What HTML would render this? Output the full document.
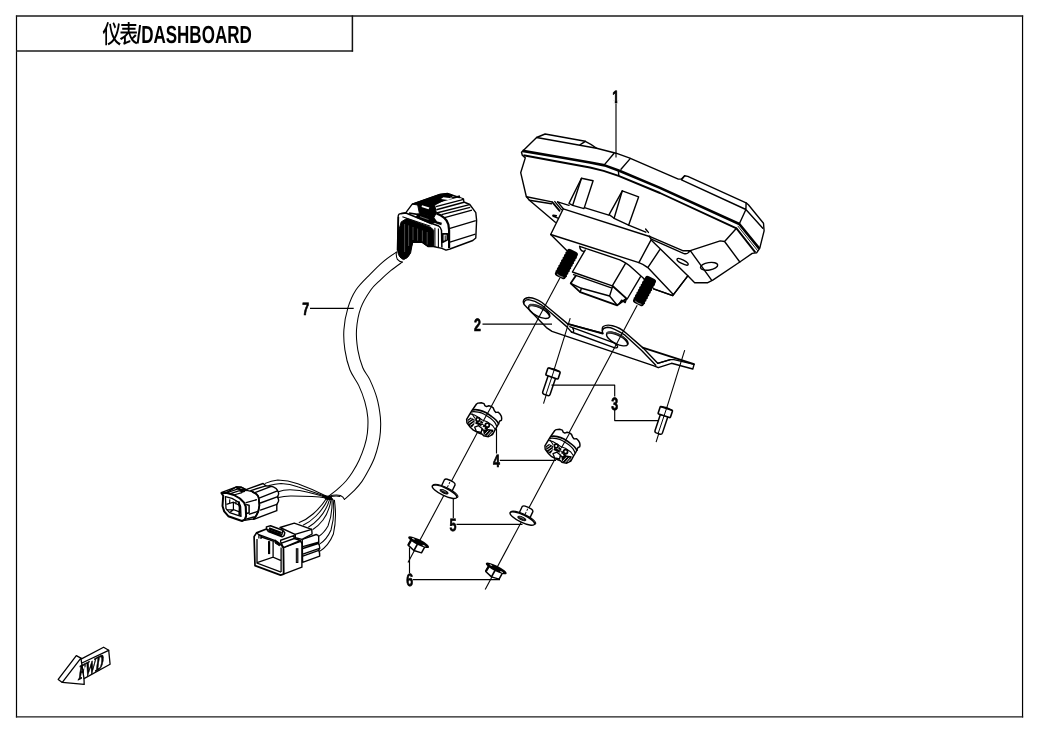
<!DOCTYPE html>
<html lang="zh">
<head>
<meta charset="utf-8">
<title>仪表/DASHBOARD</title>
<style>
html,body{margin:0;padding:0;background:#fff;}
body{width:1038px;height:733px;overflow:hidden;font-family:"Liberation Sans",sans-serif;}
svg{display:block;will-change:transform;}
svg text{text-rendering:geometricPrecision;font-family:"Liberation Sans",sans-serif;font-weight:bold;fill:#000;}
.l{fill:none;stroke:#000;stroke-width:1.4;stroke-linecap:round;stroke-linejoin:round;}
.t{fill:none;stroke:#000;stroke-width:0.9;stroke-linecap:round;stroke-linejoin:round;}
.k{fill:none;stroke:#000;stroke-width:1.8;stroke-linecap:round;stroke-linejoin:round;}
.w{fill:#fff;stroke:#000;stroke-width:1.4;stroke-linecap:round;stroke-linejoin:round;}
.b{fill:#000;stroke:#000;stroke-width:1;stroke-linejoin:round;}
#wires .l{stroke-width:1.05;}
.ax{fill:none;stroke:#000;stroke-width:1.1;}
.ld{fill:none;stroke:#000;stroke-width:1.15;}
</style>
</head>
<body>
<svg width="1038" height="733" viewBox="0 0 1038 733">
<rect x="0" y="0" width="1038" height="733" fill="#fff"/>
<!-- frame -->
<g id="frame">
<path d="M16.5 15.4V717.6M1022.55 15.4V717.6" fill="none" stroke="#000" stroke-width="1.2"/>
<path d="M15.9 16H1023.2M15.9 716.95H1023.2M16 51H353.1" fill="none" stroke="#1c1c1c" stroke-width="1.3"/>
<path d="M352.4 15.4V51.6" fill="none" stroke="#111" stroke-width="1.5"/>
<g id="title" fill="#000">
<title>仪表/DASHBOARD</title>
<path transform="translate(102.7,21.9) scale(0.01886,0.02537)" d="M521 54C564 118 609 204 627 257L707 213C688 160 640 78 597 16ZM812 55C779 259 726 441 620 586C524 449 468 273 434 69L344 83C385 318 447 514 553 664C478 741 382 805 257 852C276 871 302 904 314 925C437 876 533 812 611 736C684 816 775 880 888 926C903 901 933 863 956 844C842 803 751 740 678 660C803 501 865 300 906 71ZM240 0C186 148 96 294 0 389C17 411 43 462 52 485C82 454 111 419 139 380V923H229V239C267 171 302 99 329 27Z"/>
<path transform="translate(119.9,21.9) scale(0.01872,0.02492)" d="M216 928C241 911 282 897 565 810C559 790 551 752 549 726L317 793V594C371 557 421 515 462 471C539 680 672 829 880 899C894 873 921 836 942 816C846 789 766 743 700 682C761 646 830 599 889 553L810 496C769 536 704 586 647 625C608 578 577 524 554 466H908V385H516V310H834V233H516V163H876V81H516V0H421V81H74V163H421V233H124V310H421V385H32V466H343C251 544 119 615 0 652C21 671 49 706 63 728C114 709 167 685 219 655V771C219 812 195 833 175 843C190 862 210 904 216 928Z"/>
<text transform="translate(136.4,42.7) scale(0.684,1)" font-size="24.9">/DASHBOARD</text>
</g>
</g>

<!-- harness -->
<g id="harness">
<!-- cable -->
<path class="l" style="stroke-width:1.05" d="M396.3 252.1C394.1 253.7 387.3 258.1 383.0 261.8C378.7 265.5 374.8 269.4 370.3 274.1C365.8 278.8 359.6 284.4 355.9 290.0C352.2 295.6 349.9 301.3 347.9 307.9C345.9 314.5 344.4 322.8 343.9 329.8C343.4 336.8 343.9 343.2 344.9 349.8C345.9 356.4 347.6 363.7 349.9 369.7C352.2 375.7 356.3 380.3 358.8 385.6C361.3 390.9 363.3 396.3 364.8 401.6C366.3 406.9 367.4 412.3 367.8 417.5C368.2 422.7 367.9 428.2 367.4 433.0C366.8 437.8 365.9 441.7 364.5 446.2C363.1 450.7 361.2 455.6 359.2 460.0C357.2 464.4 354.6 468.8 352.4 472.3C350.2 475.8 348.3 478.3 346.0 481.0C343.7 483.7 341.3 485.8 338.4 488.4C335.5 491.0 330.1 495.1 328.4 496.4"/>
<path class="l" style="stroke-width:1.05" d="M402.3 262.1C400.4 263.5 394.7 267.4 391.0 270.4C387.3 273.4 383.7 276.8 380.3 280.1C376.9 283.4 374.1 285.4 370.8 290.0C367.6 294.6 363.2 301.3 360.8 307.9C358.4 314.5 357.0 322.8 356.5 329.8C356.0 336.8 356.8 343.5 357.8 349.8C358.9 356.1 360.8 362.7 362.8 367.7C364.8 372.7 367.5 374.6 369.8 379.6C372.1 384.6 375.0 391.3 376.8 397.6C378.6 403.9 379.8 411.8 380.4 417.5C381.0 423.2 380.7 427.6 380.4 432.0C380.1 436.4 379.5 439.9 378.5 444.2C377.5 448.5 376.1 453.6 374.4 458.0C372.7 462.4 370.6 466.4 368.5 470.3C366.4 474.2 364.4 478.0 362.0 481.4C359.6 484.8 357.3 487.4 354.4 490.4C351.5 493.4 346.1 497.9 344.4 499.4"/>
<path class="l" style="stroke-width:1.05" d="M396.3 252.1Q396 257 397.4 259.4Q399.6 262 402.3 262.1"/>
<path class="l" style="stroke-width:1.05" d="M328.4 496.4Q336 494.2 340.4 495.6Q343.4 497 344.4 499.4"/>
<!-- wires to small connector -->
<g id="wires">
<path class="l" d="M265.2 483.4Q271 480.6 277.8 480Q288 480.2 297.8 483.8Q312 489 326 496"/>
<path class="l" d="M269 485.6Q275 483.6 281 483.4Q290 483.8 298.4 487Q312 491.6 326 496.6"/>
<path class="l" d="M278.4 491.8Q283 489.8 290 489.8Q300 490 308 492.2Q318 494.6 326 497.2"/>
<path class="l" d="M278.6 497.6Q284 495.8 292 496Q302 496.2 312 496.6Q320 497 326 498"/>
<!-- junction -->
<path d="M322 495.6L330.6 496.4L333 499.6L326 499.2Z" fill="#000" stroke="#000" stroke-width="1"/>
<!-- wires to big connector (upper set) -->
<path class="l" d="M326.4 498.6Q322 506 313 514Q306 520 299.2 522.6"/>
<path class="l" d="M328 499Q324 508 316 516Q310 522 303.4 525"/>
<path class="l" d="M329.6 499.4Q326.6 510 319 518.4Q314 524 308.6 527"/>
<path class="l" d="M331 499.8Q329 512 323 520Q318.4 526 313.2 529.2"/>
<!-- wires to big connector (rear set) -->
<path class="l" d="M332 500Q332.6 514 328 526Q324 533 318.7 536.4"/>
<path class="l" d="M333.2 500Q335 516 331 530Q326.6 540 319.2 544.4"/>
<path class="l" d="M334.4 500.2Q337 518 333.4 534Q328.6 546 319.3 551.6"/>
<path class="l" d="M330.6 496.6Q336 495.4 340 496.4"/>
</g>
<!-- small connector 1 -->
<g id="conS">
<!-- rear seal section -->
<path class="w" d="M246.7 489.3L263.1 483.5L265.8 485.8L270.6 486.2L273.3 486.9Q276.8 488.4 277.4 490.3Q279 492.4 278.5 494.4L277.4 497.1Q279 499.4 278.5 501.2L276.8 504.6V510.7L253.6 519.3L246 516Z"/>
<path class="l" d="M250.8 490.6L265.8 485.8M254.9 492.7L270.6 486.6M259.7 497.8L277.4 490.8M260.4 503L277.8 496.6M260.4 510.1L276.8 504.4"/>
<!-- mid body -->
<path class="w" d="M239.9 498.5L233.8 495L226.3 492.7L236.5 486.9L241.3 487.2L248.1 490.6L252.2 491.6L256.3 494Q258.4 495.8 258.7 497.8L259.4 505.3L258.3 511.4L256.3 515.5L253.6 518.9L244.7 520.4L246.1 516.2L245.7 506.6L244 502.6Z"/>
<path d="M252.2 491.6L256.3 494Q258.4 495.8 258.7 497.8L259.4 505.3L258.3 511.4L256.3 515.5L253.6 518.9" fill="none" stroke="#000" stroke-width="1.8"/>
<path class="l" d="M246.1 502.6L256.3 499.8M249.5 514.2L257.7 511.4M246 519.2L253.6 517"/>
<path d="M246.1 504.6L249.1 505.3V512.8L246.4 513.5" fill="none" stroke="#000" stroke-width="1.5"/>
<!-- top latch -->
<path d="M221.2 492.7L236.5 486.9L241.3 487.2L248.1 490.8M223.4 494L238 488.8L245 491.6M227.6 494.6L239.4 490.6L243.4 492.4M233.8 495L242 492.6" fill="none" stroke="#000" stroke-width="1.3" stroke-linejoin="round"/>
<path d="M236.5 487.6L240.8 489.6L246.8 490.2" fill="none" stroke="#000" stroke-width="2"/>
<!-- front opening -->
<path d="M221.4 493L226.3 492.7L233.8 495L239.9 498.5L244 502.6L245.7 506.6L246.1 516.2L244.7 519.6L242 521L228.3 516.2L224.2 511.4L222.5 506L223.2 495.7Z" fill="#fff" stroke="#000" stroke-width="2" stroke-linejoin="round"/>
<path d="M225.4 496.6L232 498.4L238.4 502L240.6 506.6L241 516.4L229.6 512.6L226 508.6Z" fill="none" stroke="#000" stroke-width="1.3" stroke-linejoin="round"/>
<path d="M226.4 504.4L233.4 502.2L240.6 506M233.4 502.4V509.6L240.8 512.4M226.6 509.8L233.4 509.6M229.8 499.4L229.6 503.4M236 500.6V504.4M229.6 512.6L233.6 509.8" fill="none" stroke="#000" stroke-width="1.2"/>
<path d="M238.6 501.4L239.8 507.6L239.4 515.6" fill="none" stroke="#000" stroke-width="2.2"/>
</g>
<!-- big connector 2 -->
<g id="conB">
<!-- rear seal ridges -->
<path class="w" d="M302.2 539.3L316.2 534.5Q318.4 535 318.7 536.6V542.1L318.2 543.1Q319.6 545 319.7 548.1L318.7 550.1Q319.8 552.6 319.7 556.1L302.6 562.3Z"/>
<path class="l" d="M302.8 546.7L318.7 542.1M302.8 548.5L318.2 543.5M302.8 554.2L319.5 548.4M302.8 556.1L318.8 550.4"/>
<!-- top rear block -->
<path class="w" d="M280 527.5L294.3 523.1L311.7 529.3L312.1 534L302 539.4L295.4 537.8L295 534.4Z"/>
<path class="l" d="M295 534.4L311.7 529.3M295 534.4L295.4 537.8"/>
<!-- right side box -->
<path class="w" d="M283.4 547.6L300.6 541.4Q301.8 542.4 301.9 544V567.2L283.6 574.1Z"/>
<path d="M297.1 548.2V563" stroke="#000" stroke-width="2.6" fill="none"/>
<path d="M297.1 549.4V562" stroke="#777" stroke-width="0.6" fill="none"/>
<!-- top of side box -->
<path class="w" d="M280 540.5L293.7 535.7L294.3 538.5L300.5 540.5L283.4 547.6L281.4 543.4Z"/>
<path class="l" d="M281.4 543.2L294.3 538.5"/>
<!-- front box -->
<path d="M254.1 536.6L256.5 532.9L266.4 529L280 536L280 543.9L282.1 546L283.4 548L283.6 574.1L280.6 575.1L255 565.6Z" fill="#fff" stroke="none"/>
<path d="M266.4 529L256.5 532.9L254.1 536.6L255 565.6L280.6 575.1L283.6 574.1L283.4 548L282.1 546L280 543.9L275.2 540.5" fill="none" stroke="#000" stroke-width="1.7" stroke-linejoin="round" stroke-linecap="round"/>
<path d="M257 539.1V563.1L281.1 572.1" fill="none" stroke="#000" stroke-width="1.3"/>
<path d="M257 562.7L273.1 557.1L281.1 560.6M273.1 541.4V557.1M281.1 547.6V572.1" fill="none" stroke="#000" stroke-width="1.3"/>
<path d="M269.1 541.1V554.1" stroke="#000" stroke-width="2.2" fill="none"/>
<path d="M256.7 533L258.9 534.7L275.2 540.5M260.2 536.6L274.6 541.6M258.9 534.9V538.4M261 535.6V539" fill="none" stroke="#000" stroke-width="1.3"/>
<path d="M275.4 540.7L280.2 544.2L279.4 545.8L275 543Z" fill="#000" stroke="#000" stroke-width="1"/>
<!-- latch block -->
<path d="M266.4 526.9L270.5 525.8L282.7 530.3L284.8 532.7L284.1 535.7L282.1 536.8L268.4 531.6L266.7 529.3Z" fill="#fff" stroke="#000" stroke-width="1.5" stroke-linejoin="round"/>
<path d="M266.9 529.3L282.1 534.7M268.6 531.2L282 536.2" fill="none" stroke="#000" stroke-width="1.3"/>
<path d="M269 528.4L281.6 533" fill="none" stroke="#000" stroke-width="2.2"/>
<path d="M282.1 534.7L282.7 530.8" fill="none" stroke="#000" stroke-width="1.2"/>
</g>
<!-- top connector -->
<g id="conTop">
<path class="w" d="M398.2 216Q398.6 213.6 400.4 213.6L405.9 212.6L412.2 204.1L439.8 194.4L447.4 193.5L463.5 199L463.9 202L469.8 204.5L475.8 212.6L476.6 220.2L475.8 238L472.8 240.5L449.9 249L446 250.2L441.9 248.4L433.4 246.5L427.9 246.5L422 242.2H412.6L410.1 250L397.4 250L397.8 233.8Z" stroke-width="1.6"/>
<!-- dark seal -->
<path d="M401.2 221.9L406.7 218.5L431.3 227.8L433.8 230.4L433.4 246.5L427.9 246.5L422 242.2H412.6L410.6 253Q408 258.6 403.6 259.6Q399 258 397.8 252L397.8 233.8Z" fill="#000" stroke="#000" stroke-width="1"/>
<path d="M398.4 217L398 234" stroke="#000" stroke-width="1.6" fill="none"/>
<path d="M404.6 224V252M408.6 225.4V246M413 227V240M417.6 228.6V240.6M422.4 230.4V241.4M427.2 232V244.6" stroke="#8a8a8a" stroke-width="0.55" fill="none"/>
<!-- rim top -->
<path d="M400.4 213.8L405.9 213L429.6 222.7L438.1 225.7Q441 227.4 441.5 230.4L441.9 247.6" fill="none" stroke="#000" stroke-width="1.5" stroke-linejoin="round"/>
<path d="M402.4 216.8L430.4 226.2M434.9 227.8V247M438.4 228.6V248" fill="none" stroke="#000" stroke-width="1.1"/>
<!-- latch dark area -->
<path d="M412.2 204.1L439.8 194.4L447.4 193.5L453.3 195.6L434.7 205L436.4 213L433.8 217.6L419.4 213.4L417.7 205Z" fill="#000" stroke="#000" stroke-width="1"/>
<path d="M422 205.2L429.4 207.6L428.6 209.2L421.6 207Z" fill="#fff"/>
<path d="M419.4 214L431.4 219.8L436.4 222.4L441.6 224" stroke="#000" stroke-width="2.4" fill="none"/>
<path d="M409 213L419 214.6" stroke="#000" stroke-width="1.6" fill="none"/>
<path d="M417.7 213.2L433.8 216.8L437 221.4L431.4 224.6L415.6 217.4Z" fill="#000"/>
<path d="M420 216.6L428.6 219.6" stroke="#aaa" stroke-width="0.6" fill="none"/>
<!-- shoulder -->
<path d="M436.4 213.4Q441 214.8 444 217.7Q447.4 220.6 448.4 224.6L449.1 230.4V248" fill="none" stroke="#000" stroke-width="2.2" stroke-linejoin="round"/>
<!-- body lines -->
<path d="M449.1 228.7L475.8 220.6M449.9 242.2L475.4 234.2" fill="none" stroke="#000" stroke-width="1.3"/>
<!-- ribs -->
<path d="M433 203.2L460 196.2" fill="none" stroke="#000" stroke-width="1.9"/>
<path d="M436 206.6L463.6 199.4" fill="none" stroke="#000" stroke-width="1.4"/>
<path d="M436.4 209.8L464 202.2" fill="none" stroke="#000" stroke-width="1.6"/>
<path d="M436.4 213L469.6 204.6M441.5 214.6L470.2 207.4M444.6 217.6L472 210.2" fill="none" stroke="#000" stroke-width="1.35"/>
<path d="M437 199.4L451 194.6" fill="none" stroke="#000" stroke-width="2"/>
<path d="M443.4 197.2L453 198.4L448 200L441 199Z" fill="#fff"/>
<path d="M449.4 201L461.6 198.4" stroke="#fff" stroke-width="0.9" fill="none"/>
<!-- tab -->
<path d="M442.7 233.8H447.4V239.7L442.7 242.2Z" fill="#fff" stroke="#000" stroke-width="1.8" stroke-linejoin="round"/>
<path d="M445.2 235.4V240" stroke="#000" stroke-width="1" fill="none"/>
</g>
</g>

<!-- dash -->
<g id="dash">
<!-- body silhouette fill (white) to hide anything behind -->
<path d="M521.5 152.3L536.6 137.5L545.1 134L585.3 141.3Q591 144 596.6 148.2L616 153.2L629.2 157.9L678.3 179.1H681.5L684.6 175.8L687.8 176.4L746.1 202.9L748.4 204.8L763.5 223.3L764.1 230.8L759.7 248.4L756.6 252.8L752.2 253.4L739.8 262L712.8 280.2L707.8 282.7H694.7L687.8 275.8L672.7 295.6L653.5 288.8L638.9 262.6L550.7 234.5L555.3 222.3L529.4 200.3L526.3 196.5L520.7 172.7L525.3 157.9L522.3 155.3Z" fill="#fff" stroke="none"/>
<path class="l" d="M653.5 288.8L672.7 295.6L687.8 275.8L694.7 282.7H707.8L712.8 280.2L739.8 262L752.2 253.4L756.6 252.8L759.7 248.4L764.1 230.8L763.5 223.3L748.4 204.8L746.1 202.9L687.8 176.4L684.6 175.8L681.5 179.1H678.3L629.2 157.9L616 153.2L596.6 148.2Q591 144 585.3 141.3L545.1 134L536.6 137.5L521.5 152.3L522.3 155.3L525.3 157.9L520.7 172.7L526.3 196.5L529.4 200.3L555.3 222.3"/>
<!-- raised block 1 -->
<path class="l" d="M536.6 137.5L596.6 148.2M579.6 145.2L585.3 141.3"/>
<!-- raised block 2 -->
<path class="l" d="M684.6 175.8L681.5 179.9L745.9 209.5L762.8 228.3M746.1 202.9L745.9 209.5L739.6 223.3"/>
<!-- centre mark -->
<path class="l" d="M613.9 153.5L604.7 164.4M630.2 158.6L621 169.2M618.4 171.3L618.8 175.2"/>
<!-- seam upper band -->
<path d="M522.6 150.9L560 157.3L590 162.5L604.7 165.4L619.3 170.8L660 187.9L739.3 224L759.3 248.6" fill="none" stroke="#000" stroke-width="2.6" stroke-linejoin="round"/>
<!-- seam lower band -->
<path d="M523.4 155.3L560 162L590 167.5L603.6 170.9L618.6 175.8L660 193L736.5 228.3L755.3 252.3" fill="none" stroke="#000" stroke-width="1.9" stroke-linejoin="round"/>
<path class="t" d="M738 226.2L757.4 250.4"/>
<!-- right lug -->
<path class="l" d="M736.5 228.3L724.6 241.5L720.2 240.9L690.3 250.7L682.7 250.7L649.5 236.4M724.6 241.5L739.8 262M690.3 250.7L711.6 280.2M650.7 238.9L683.4 253.3Q686.6 254.6 688.4 252.6L690.3 250.7"/>
<ellipse class="l" cx="709.1" cy="266.3" rx="8.7" ry="3.7" transform="rotate(-9 709.1 266.3)"/>
<ellipse class="l" cx="682.6" cy="261.8" rx="6.2" ry="1.9" transform="rotate(27 682.6 261.8)"/>
<!-- left lower -->
<path class="l" d="M526.5 196.8L552 201.9M529.4 200.2L551.4 203.8"/>
<path class="k" d="M552.3 202.2L559.6 210.8"/>
<path class="l" d="M554.8 201.6L561.4 209.6"/>
<path class="l" d="M558 218.2L553.4 216.4Q552.2 215.4 553.4 215.2L556.4 215.8"/>
<!-- fins -->
<path class="w" d="M581.5 178.3L593.1 180.8L584 208.6L572.7 205.3Z"/>
<path class="l" d="M581.5 178.3L569 203.4L572.7 205.3"/>
<path class="w" d="M622.3 190.8L638.6 196.9L628.6 225.2L614.1 218.3Z"/>
<path class="l" d="M622.3 190.8L609.1 214.6L614.1 218.3"/>
<!-- mount block -->
<path class="l" d="M557.6 201.9L569 205.4M585.2 207.8L608.8 215.2M628.6 225.2L645.8 232.2M645.6 229L648.4 232.4"/>
<path class="w" d="M563.3 208.8L649.5 236.5L651.2 239.6L638.9 262.6L550.7 234.5Z"/>
<path class="l" d="M557.6 201.9L563.3 208.8"/>
<circle cx="649.6" cy="236.6" r="1" fill="#000"/>
<!-- foot right -->
<path class="l" d="M660.3 248.9L647.8 267.6M651.4 240.2L687.8 275.8L672.7 295.6L653.7 288.8M638.9 262.6Q644 264.5 647.8 267.6L673.3 294.6"/>
<!-- under block -->
<path class="l" d="M550.7 234.5L567 250.7"/>
<path class="l" d="M583.3 251.3Q580.2 250.6 579.6 246.3L619.8 259.8Q628 263.5 632.4 268.2L644.3 279"/>
<!-- connector housing -->
<path class="l" d="M585.2 250.1L572.4 272L612.3 285.8L625.4 263.6M573.6 274.6L611.4 287.8M640.4 276.8L627.2 299"/>
<!-- socket -->
<path class="k" d="M575.8 275.8L570.7 283.3L580.2 292.1L617.2 305.3L626.6 298.6L612.6 286"/>
<path class="l" d="M570.7 283.3L581.4 288.3L609.6 296L617.2 305.3M609.6 296L612.6 286.4M580.2 292.1L581.4 288.3"/>
<path class="l" d="M619.5 303.4L621.6 300.2L625.2 302.6L626.6 298.6"/>
</g>
<g id="studs">
<!-- stud: local coords: axis along +y (down), rotated 28.1deg (pointing down-left) -->
<g id="stud" transform="translate(566.4,264) rotate(28.1)">
<rect x="-5.9" y="-15.2" width="11.8" height="30.4" rx="2.8" ry="2.4" fill="#000"/>
<path d="M-6.3 -10H6.3M-6.3 -7H6.3M-6.3 -4H6.3M-6.3 -1H6.3M-6.3 2H6.3M-6.3 5H6.3M-6.3 8H6.3M-6.3 11H6.3" stroke="#000" stroke-width="1.2" fill="none"/>
<path d="M-3.6 13.2Q0 14.4 3.6 13.2" stroke="#bbb" stroke-width="0.7" fill="none"/>
</g>
<use href="#stud" transform="translate(78.1,27)"/>
</g>

<!-- bracket -->
<g id="bracket">
<!-- plate silhouette -->
<path class="w" d="M528.8 297.5Q523.5 298 523.2 302Q523.6 304.5 526 306.5L546.4 327.6L552 331.4L654 365.8L658.3 367.7L671.5 363.3L692.8 369L694.1 364.4L674 359.6H670.3L657.7 363.3L642.7 347.6L626.3 333.2Q620 327.5 612.5 325.7Q606.5 324.2 603.2 326.5Q601.4 328.5 602.8 333.3L567.7 323.9L552.6 311.3L542 302.5Q536 298.2 528.8 297.5Z"/>
<!-- left ear thickness line -->
<path class="l" d="M523.6 303.6Q524.5 299.6 528.4 299.6Q535 300.6 541.3 304.8L551.4 313.2L566.4 326.4L571.5 332"/>
<!-- left hole -->
<ellipse class="l" cx="539.2" cy="311.6" rx="11.6" ry="4.9" transform="rotate(27 539.2 311.6)"/>
<path class="l" d="M529.4 305.4Q535.5 305.2 543.4 309.6Q548.6 312.8 549.6 316.4" />
<path d="M528.6 305.2Q529.6 303.6 533.4 304.2Q539 305.4 544.6 308.8L546.4 310.6Q540 306.6 535.5 306Q531 305.2 529.6 306.6Z" fill="#444" stroke="#333" stroke-width="0.6"/>
<!-- middle span -->
<path d="M567.7 323.9L602.8 333.6" class="k"/>
<path class="l" d="M569.8 326.6L615.4 343.3M571.5 332L614.1 347.7Q618.4 348.4 617.4 346Q616.6 344.4 614.6 343.4M572.8 328.4Q574.4 330 573.4 332.4"/>
<!-- right ear thickness -->
<path class="l" d="M602.4 331Q602.6 327.8 607.6 327.2Q613 327.4 625 335.2L641.4 350.2L655.8 365.2"/>
<!-- right hole -->
<ellipse class="l" cx="617.3" cy="339" rx="11.8" ry="4.9" transform="rotate(27 617.3 339)"/>
<path class="l" d="M607.4 332.8Q613.5 332.6 621.4 337Q626.6 340.2 627.6 343.8"/>
<path d="M606.6 332.6Q607.6 331 611.4 331.6Q617 332.8 622.6 336.2L624.4 338Q618 334 613.5 333.4Q609 332.6 607.6 334Z" fill="#444" stroke="#333" stroke-width="0.6"/>
<!-- tail -->
<path class="k" d="M642.7 347.6L694 364.2"/>
<path class="l" d="M657.7 363.3L670.3 359.6"/>
</g>

<!-- axes -->
<g id="axes">
<path class="ax" d="M560 277.7L408 562.6"/>
<path class="ax" d="M637.2 305.3L485.2 589.6"/>
<path class="ax" d="M570.2 318.2L543.5 403.6"/>
<path class="ax" d="M684.7 350.2L656.1 442.1"/>
</g>

<!-- bolts -->
<g id="bolts">
<g id="bolt" transform="translate(553,373.5) rotate(18.5)">
<path d="M-3.9 3.6V20.6Q-3.9 22.4 -2 22.6H2Q3.9 22.4 3.9 20.6V3.6Z" fill="#fff" stroke="#000" stroke-width="1.5" stroke-linejoin="round"/>
<rect x="-6.5" y="-3.8" width="13" height="7.6" rx="0.8" fill="#fff" stroke="#000" stroke-width="1.6"/>
<path d="M-6 -3.9Q0 -5.2 6 -3.9" fill="none" stroke="#000" stroke-width="1.4"/>
<path d="M0 -4.4V22.4" fill="none" stroke="#000" stroke-width="0.9"/>
</g>
<use href="#bolt" transform="translate(112.3,38.6)"/>
</g>

<!-- dampers -->
<g id="dampers">
<g id="damper">
<!-- silhouette -->
<path class="w" style="stroke-width:1.45" d="M476.5 404L477.9 403.1L481.3 402.8L484 403.6L484.8 405.6L486.5 406.6L488.8 405.7L491.2 406.4L493.2 407.9L494.4 410.7L495.9 412.4L498.3 412.2L500 413.9L501.4 416.3L501.7 418.6L501.4 420.4L499.7 421L497.3 426.2L495.2 429.6L492.5 434.7L488.4 436.7L483.6 435.7L482.3 434.3L478.9 433L473.4 430.2L470.3 427.2L466.9 422.7L466.6 419.3L472 410.5Z"/>
<path class="k" style="stroke-width:1.7" d="M473.4 409.8Q476 409.4 478.9 410.1Q482.5 410.9 485.7 412.5Q489 414.3 491.8 416.6Q494 418.2 495.9 420Q497.6 421.8 498.7 423.8"/>
<path class="l" style="stroke-width:1.2" d="M472 411.8Q475 411.5 478.2 412.2Q481.4 412.9 484.3 414.2Q487.6 416 490.5 418.3Q492.8 420.1 494.6 422.1Q496 424 496.6 426.2"/>
<path class="l" style="stroke-width:1.1" d="M470.6 414Q474.6 414.4 478.2 417.3L482.3 420L487.7 422.1L492.5 425.5L495.2 429.2"/>
<path class="ax" d="M491.4 406.6L483 421.6"/>
<path class="l" style="stroke-width:1.1" d="M472 413.7L474.7 418"/>
<!-- interior -->
<path d="M467.4 419.8L470.7 417.6L474.7 419.4L474.2 424.6L472 427.2L468.6 425.5Z" fill="#000"/>
<path d="M468.2 421.2L471.8 418.8M468.8 423.4L473.6 420.2M470.2 425.4L474 422.6" stroke="#fff" stroke-width="0.85" fill="none"/>
<path d="M483 429.8L488.2 429L493.4 429.8L492.6 434.2L488.2 436.4L483.8 435.1Z" fill="#000"/>
<path d="M484.6 434.6L488.4 430.6M487 435.8L491 431.2M489.6 435.4L492.6 432" stroke="#fff" stroke-width="0.85" fill="none"/>
<circle cx="477.9" cy="419.5" r="1.9" fill="#fff" stroke="#000" stroke-width="1.7"/>
<circle cx="487.3" cy="425.2" r="2" fill="#fff" stroke="#000" stroke-width="1.7"/>
<path d="M475.6 422.4L480.6 424.6L485 426.4" stroke="#000" stroke-width="2.6" fill="none"/>
<path d="M480.4 421.4L482.8 423.2M485 427.6L487.6 429.4" stroke="#000" stroke-width="2" fill="none"/>
<rect x="481.4" y="425" width="1.7" height="1.7" fill="#fff"/>
<path d="M474.7 427.2L478.6 425.7L482.1 428.5L481.2 432.5L476.4 431.4Z" fill="#fff" stroke="#000" stroke-width="1.3" stroke-linejoin="round"/>
<path d="M482.2 428.6L483.2 430.6" stroke="#000" stroke-width="1.6" fill="none"/>
</g>
<use href="#damper" transform="translate(78.3,26.5)"/>
</g>

<!-- washers -->
<g id="washers">
<g id="washer" transform="translate(444.9,491.3) rotate(25.5)">
<!-- collar (behind flange) -->
<path d="M-5.4 0V-10.2Q-5 -11.6 -3 -11.9Q0.5 -12.4 4 -11.9Q6 -11.6 6.4 -10.2V0Z" fill="#fff" stroke="#000" stroke-width="1.4" stroke-linejoin="round"/>
<!-- flange -->
<ellipse cx="0.4" cy="-0.5" rx="13.7" ry="3.6" fill="#fff" stroke="#000" stroke-width="1.1"/>
<ellipse cx="-0.2" cy="0.5" rx="13.5" ry="3.8" fill="#fff" stroke="#000" stroke-width="1.5"/>
<!-- hole -->
<ellipse cx="-0.6" cy="0.7" rx="4.4" ry="1.5" fill="#111" stroke="#000" stroke-width="0.9"/>
<path d="M-3.4 0.3Q-1 -0.3 1.6 0.4" stroke="#ccc" stroke-width="0.5" fill="none"/>
<path d="M0.5 -10.6V-4.2" stroke="#000" stroke-width="0.9" stroke-dasharray="2.2 1.4" fill="none"/>
</g>
<use href="#washer" transform="translate(77.8,26.8)"/>
</g>

<!-- nuts -->
<g id="nuts">
<g id="nut" transform="translate(418.7,542) rotate(27)">
<path d="M-7.8 1.2L-8 7.6L-0.4 9.8L7.4 8.4L7.6 1.2Z" fill="#fff" stroke="#000" stroke-width="1.5" stroke-linejoin="round"/>
<path d="M-0.2 2.4L-0.4 9.8" stroke="#000" stroke-width="1.7" fill="none"/>
<path d="M-7.5 1.4L-7.9 7.4" stroke="#000" stroke-width="2.2" fill="none"/>
<ellipse cx="0" cy="0.2" rx="11.6" ry="2.9" fill="#000"/>
<ellipse cx="-6.2" cy="-0.4" rx="1.5" ry="0.55" fill="#e8e8e8"/>
<ellipse cx="6.4" cy="0.9" rx="1.7" ry="0.55" fill="#e8e8e8"/>
</g>
<use href="#nut" transform="translate(77.6,26.3)"/>
</g>

<!-- labels -->
<g id="labels" font-size="17.8" stroke="#000" stroke-width="0.7" stroke-linejoin="round">
<text transform="translate(612.3,102.6) scale(0.7,1)">1</text>
<text transform="translate(474,330.6) scale(0.7,1)">2</text>
<text transform="translate(611.2,409.5) scale(0.7,1)">3</text>
<text transform="translate(493,466.8) scale(0.7,1)">4</text>
<text transform="translate(449.5,530.5) scale(0.7,1)">5</text>
<text transform="translate(406.3,585.8) scale(0.7,1)">6</text>
<text transform="translate(302.2,314.8) scale(0.7,1)">7</text>
<rect id="foot" x="611.4" y="100.3" width="3.4" height="3.6" fill="#fff" stroke="none"/><rect x="617.3" y="100.3" width="3.4" height="3.6" fill="#fff" stroke="none"/>
<path class="ld" d="M616 103.5V157.5"/>
<path class="ld" d="M482.5 324.1H552"/>
<path class="ld" d="M551.5 385.1H614.7V396.5M614.7 410V420.6H658.6"/>
<path class="ld" d="M496.5 428.5V453.5M499.8 460.3H556"/>
<path class="ld" d="M453.3 499V518M456.5 524.3H522.5"/>
<path class="ld" d="M409.5 547.5V573M413 579.6H500"/>
<path class="ld" d="M310 308.4H353.7"/>
</g>

<!-- fwd -->
<g id="fwd">
<path class="w" d="M58.2 679.4L76.3 655.6L80.9 658.1L81.5 658.9L103.6 647.2L108.7 650.3L110.1 664.2L84 678.6L84.2 684.4L62.3 682.4Z" style="stroke-width:1.3"/>
<path class="l" d="M80.9 658.1L62.3 682.4M81.9 663L108.7 650.3M80.9 658.1L84 678.6" style="stroke-width:1.3"/>
<text transform="matrix(0.5,-0.25,-0.14,1,77.8,680.2)" font-size="21.5" stroke="#000" stroke-width="0.9" style="font-family:'Liberation Serif',serif;font-weight:bold">FWD</text>
</g>

</svg>
</body>
</html>
